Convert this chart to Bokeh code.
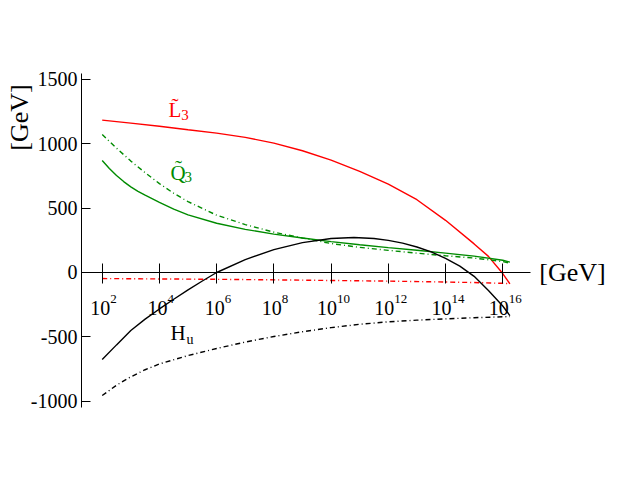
from bokeh.plotting import figure
from bokeh.models import Range1d, FixedTicker
from bokeh.core.properties import value
from bokeh.embed import file_html
from bokeh.resources import INLINE

# ---- data (x = log10(Q/GeV)) ----
l3_x = [2, 3, 4, 5, 6, 7, 8, 9, 10, 11, 12, 13, 14, 15, 15.5, 16, 16.25]
l3_solid = [1183, 1160, 1135, 1108, 1082, 1049, 1004, 945, 873, 785, 686, 565, 405, 222, 125, -8, -88]

l3d_x = [2, 4, 6, 8, 10, 12, 14, 15, 16, 16.25]
l3_dash = [-47, -50, -53, -57, -62, -67, -74, -78, -84, -86]

q3s_x = [2, 2.25, 2.5, 2.75, 3, 3.25, 3.5, 4, 4.5, 5, 6, 7, 8, 9, 10, 11, 12, 13, 14, 15, 16, 16.25]
q3_solid = [870, 808, 753, 706, 665, 630, 600, 545, 492, 447, 382, 335, 298, 268, 240, 215, 193, 173, 150, 127, 95, 80]

q3d_x = [2, 2.5, 3, 3.5, 4, 4.5, 5, 6, 7, 8, 9, 10, 11, 12, 13, 14, 15, 16, 16.25]
q3_dash = [1071, 965, 865, 775, 690, 615, 550, 445, 372, 313, 268, 225, 195, 172, 150, 130, 112, 85, 72]

hu_x = [2, 2.5, 3, 3.5, 4, 4.5, 5, 5.5, 6, 7, 8, 9, 10, 10.8, 11.5, 12, 12.5, 13, 13.5, 14, 14.5, 15, 15.5, 16, 16.25]
hu_solid = [-675, -562, -450, -362, -283, -208, -135, -66, 0, 100, 178, 232, 264, 272, 264, 249, 228, 198, 160, 110, 50, -30, -140, -260, -335]

hud_x = [2, 2.5, 3, 3.5, 4, 5, 6, 7, 8, 9, 10, 11, 12, 13, 14, 15, 16, 16.25]
hu_dash = [-955, -875, -810, -755, -710, -645, -590, -540, -497, -460, -428, -402, -383, -370, -360, -351, -344, -342]

x_ticks = [2, 4, 6, 8, 10, 12, 14, 16]
x_exps = ["2", "4", "6", "8", "10", "12", "14", "16"]
y_ticks = [-1000, -500, 0, 500, 1000, 1500]
y_tick_labels = ["-1000", "-500", "0", "500", "1000", "1500"]

# axes extents (data units)
x_axis_span = (1.276, 16.97)
y_axis_span = (-1048, 1545)

# curve / unit labels: (x, y) in data units
lab_L = (4.32, 1258); lab_L_sub = (4.76, 1219)
lab_Q = (4.39, 776); lab_Q_sub = (4.88, 738)
lab_H = (4.39, -466); lab_H_sub = (4.95, -520)
lab_xunit = (17.28, 0)
lab_yunit = (-0.89, 1203)

RED = "#ff0000"
GREEN = "#008b00"
FONT = "Liberation Serif"

p = figure(frame_width=615, frame_height=470,
           x_range=Range1d(-1.555, 19.941), y_range=Range1d(-1537.3, 2111.8),
           output_backend="svg", toolbar_location=None,
           min_border_left=0, min_border_top=0, min_border_right=0,
           min_border_bottom=0)
p.outline_line_color = None
p.xgrid.visible = False
p.ygrid.visible = False
p.background_fill_color = "white"
p.border_fill_color = "white"

# y axis (vertical line at left end of x axis)
p.yaxis.fixed_location = x_axis_span[0]
p.yaxis.bounds = y_axis_span
p.yaxis.ticker = FixedTicker(ticks=y_ticks)
p.yaxis.major_label_overrides = {t: s for t, s in zip(y_ticks, y_tick_labels)}
p.yaxis.major_tick_in = 9
p.yaxis.major_tick_out = 0
p.yaxis.minor_tick_line_color = None
p.yaxis.major_label_standoff = 4
p.yaxis.major_label_text_font = FONT
p.yaxis.major_label_text_font_size = "20px"
p.yaxis.major_label_text_color = "black"
p.yaxis.axis_line_color = "black"
p.yaxis.major_tick_line_color = "black"

# x axis crossing at y = 0
p.xaxis.fixed_location = 0
p.xaxis.bounds = x_axis_span
p.xaxis.ticker = FixedTicker(ticks=x_ticks)
p.xaxis.major_label_overrides = {t: "" for t in x_ticks}
p.xaxis.major_tick_in = 9
p.xaxis.major_tick_out = 11
p.xaxis.minor_tick_line_color = None
p.xaxis.axis_line_color = "black"
p.xaxis.major_tick_line_color = "black"

# x tick labels 10^n
offs = [10 - 2 * len(e) for e in x_exps]
p.text(x=x_ticks, y=[0] * len(x_ticks), text=["10"] * len(x_ticks),
       x_offset=offs, y_offset=36, text_align="right", text_baseline="alphabetic",
       text_font=value(FONT), text_font_size="20px", text_color="black")
p.text(x=x_ticks, y=[0] * len(x_ticks), text=x_exps,
       x_offset=offs, y_offset=27, text_align="left", text_baseline="alphabetic",
       text_font=value(FONT), text_font_size="13px", text_color="black")

DD = "5 3 1 3"
p.line(l3_x, l3_solid, line_color=RED, line_width=1.4)
p.line(l3d_x, l3_dash, line_color=RED, line_width=1.4, line_dash=DD)
p.line(q3s_x, q3_solid, line_color=GREEN, line_width=1.4)
p.line(q3d_x, q3_dash, line_color=GREEN, line_width=1.4, line_dash=DD)
p.line(hu_x, hu_solid, line_color="black", line_width=1.4)
p.line(hud_x, hu_dash, line_color="black", line_width=1.4, line_dash=DD)

def lbl(pos, txt, color, size, angle=0.0, align="left", baseline="alphabetic"):
    p.text(x=[pos[0]], y=[pos[1]], text=[txt], text_color=color,
           text_font=value(FONT), text_font_size=size, angle=angle,
           text_align=align, text_baseline=baseline)

lbl(lab_L, "L\u0303", RED, "21px")
lbl(lab_L_sub, "3", RED, "15px")
lbl(lab_Q, "Q\u0303", GREEN, "21px")
lbl(lab_Q_sub, "3", GREEN, "15px")
lbl(lab_H, "H", "black", "21px")
lbl(lab_H_sub, "u", "black", "14px")

# axis unit labels
lbl(lab_xunit, "[GeV]", "black", "26px", baseline="middle")
lbl(lab_yunit, "[GeV]", "black", "26px", angle=1.5708, align="center", baseline="middle")

open("out.html", "w").write(file_html(p, INLINE))
